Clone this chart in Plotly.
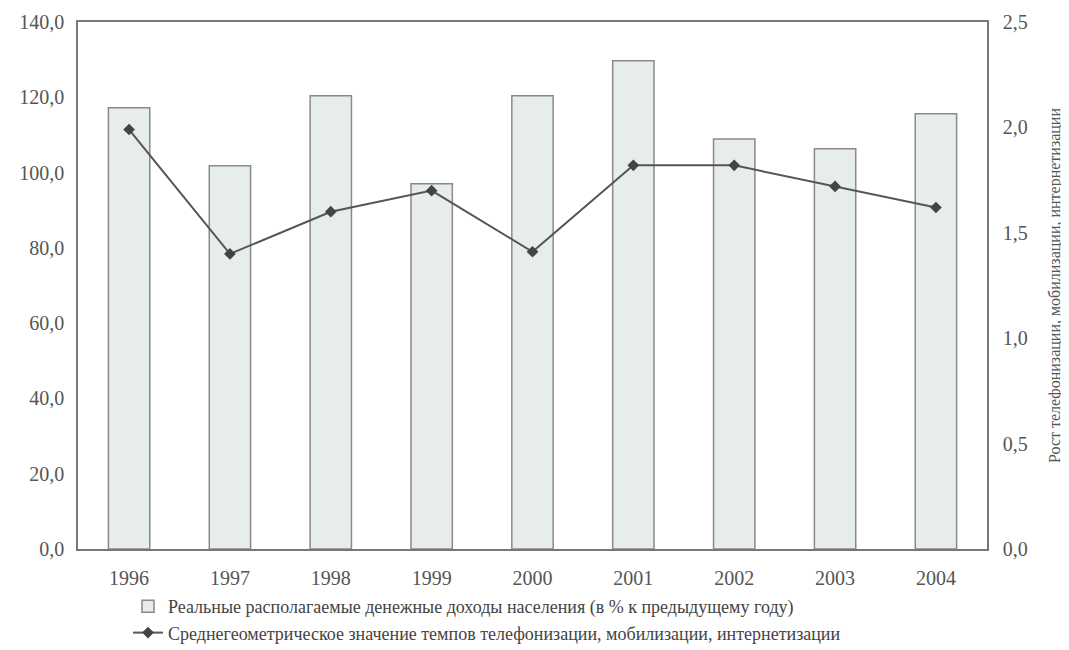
import plotly.graph_objects as go

years = ["1996", "1997", "1998", "1999", "2000", "2001", "2002", "2003", "2004"]
income = [117.2, 101.8, 120.4, 97.0, 120.4, 129.7, 108.9, 106.3, 115.6]
telecom = [1.99, 1.40, 1.60, 1.70, 1.41, 1.82, 1.82, 1.72, 1.62]

name_bar = "Реальные располагаемые денежные доходы населения (в % к предыдущему году)"
name_line = "Среднегеометрическое значение темпов телефонизации, мобилизации, интернетизации"
right_title = "Рост телефонизации, мобилизации, интернетизации"

font_fam = "'Liberation Serif', 'Times New Roman', 'DejaVu Serif', serif"
txt = "#555555"

fig = go.Figure()
fig.add_trace(go.Bar(
    x=years, y=income, name=name_bar,
    marker=dict(color="#e7ecec", line=dict(color="#8a8a8a", width=1.5)),
    width=0.41,
))
fig.add_trace(go.Scatter(
    x=years, y=telecom, name=name_line, yaxis="y2",
    mode="lines+markers",
    line=dict(color="#555555", width=2),
    marker=dict(symbol="diamond", size=9, color="#444444"),
))

fig.update_layout(
    width=1069, height=650,
    paper_bgcolor="white", plot_bgcolor="white",
    separators=", ",
    font=dict(family=font_fam, color=txt, size=20),
    margin=dict(l=70, r=90, t=14, b=109, autoexpand=False),
    xaxis=dict(
        showline=True, linecolor="#777777", linewidth=1.5, mirror=True,
        ticks="", showgrid=False, automargin=False,
        ticklabelstandoff=10,
        tickfont=dict(family=font_fam, size=20, color=txt),
    ),
    yaxis=dict(
        range=[0, 140], dtick=20, tickformat=".1f",
        showline=True, linecolor="#777777", linewidth=1.5,
        showgrid=False, ticks="", zeroline=False, automargin=False,
        ticklabelstandoff=8,
        tickfont=dict(family=font_fam, size=20, color=txt),
    ),
    yaxis2=dict(
        range=[0, 2.5], dtick=0.5, tickformat=".1f",
        overlaying="y", side="right",
        showline=True, linecolor="#777777", linewidth=1.5,
        showgrid=False, ticks="", zeroline=False, automargin=False,
        ticklabelstandoff=10,
        tickfont=dict(family=font_fam, size=20, color=txt),
        title=dict(text=right_title, font=dict(family=font_fam, size=16, color=txt), standoff=22),
    ),
    legend=dict(
        orientation="v", x=0.055, y=-0.074, xanchor="left", yanchor="top",
        font=dict(family=font_fam, size=18, color="#444444"),
        bgcolor="rgba(0,0,0,0)", tracegroupgap=0,
    ),
    showlegend=True,
)

fig.write_html("out.html")
